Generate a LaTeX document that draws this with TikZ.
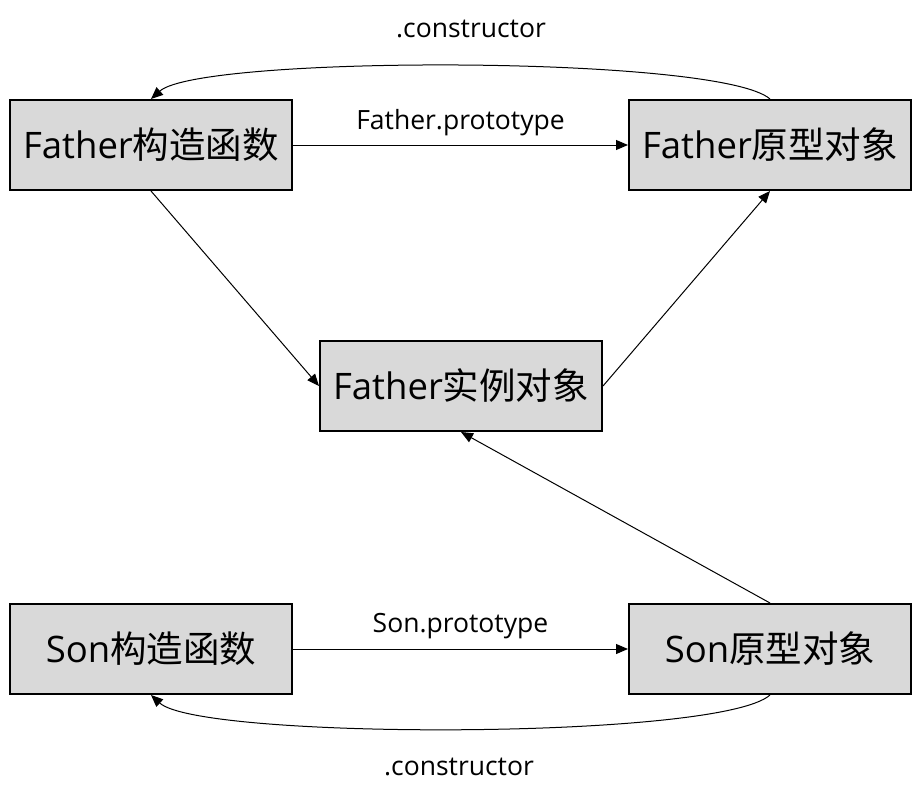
\documentclass[tikz,border=0pt]{standalone}
\usepackage{fontspec}
\setmainfont{Open Sans}
\newfontfamily\cjk{Noto Sans CJK SC}
\usetikzlibrary{arrows.meta}
\definecolor{boxfill}{HTML}{D9D9D9}
\tikzset{
  box/.style={draw=black, line width=2pt, fill=boxfill, minimum width=282pt, minimum height=90pt, inner sep=0pt, font=\fontsize{36.5}{40}\selectfont},
  conn/.style={line width=1pt, -{Triangle[length=12pt,width=10pt]}},
  lbl/.style={font=\fontsize{26.5}{28}\selectfont, inner sep=0pt}
}
\begin{document}
\begin{tikzpicture}[x=1pt,y=-1pt]
\useasboundingbox (0,0) rectangle (921,800);
\node[box] (fc) at (151,145) {Father{\cjk 构造函数}};
\node[box] (fp) at (770,145) {Father{\cjk 原型对象}};
\node[box] (fi) at (461,386) {Father{\cjk 实例对象}};
\node[box] (sc) at (151,649) {Son{\cjk 构造函数}};
\node[box] (sp) at (770,649) {Son{\cjk 原型对象}};
\draw[conn] (fc.east) -- (fp.west) node[lbl, midway, above=9pt] (l1) {Father.prototype};
\draw[conn] (fp.north) .. controls (720,55) and (200,55) .. (fc.north);
\node[lbl] (l2) at (471,29) {.constructor};
\draw[conn] (fc.south) -- (fi.west);
\draw[conn] (fi.east) -- (fp.south);
\draw[conn] (sp.north) -- (fi.south);
\draw[conn] (sc.east) -- (sp.west) node[lbl, midway, above=10pt] (l3) {Son.prototype};
\draw[conn] (sp.south) .. controls (720,740) and (200,740) .. (sc.south);
\node[lbl] (l4) at (459,767) {.constructor};
\end{tikzpicture}
\end{document}
